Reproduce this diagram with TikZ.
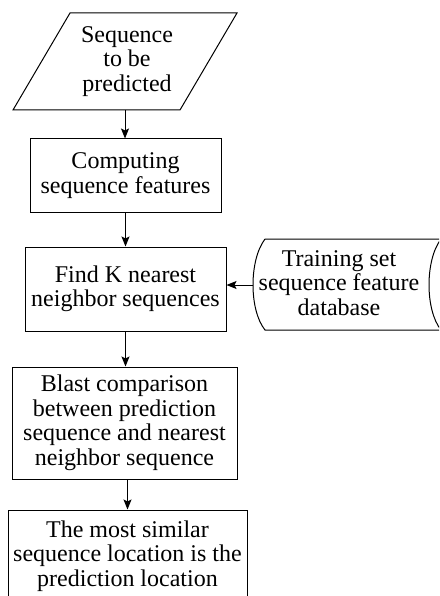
\documentclass[tikz,border=0pt]{standalone}
\usepackage{fontspec}
\setmainfont{Liberation Serif}
\usetikzlibrary{arrows.meta}
\begin{document}
\begin{tikzpicture}[x=1pt,y=-1pt,
  outline/.style={draw, line width=1pt},
  txt/.style={inner sep=0pt, align=center, font=\fontsize{24}{24.5}\selectfont},
  procbox/.style={txt, outline, rectangle},
  flow/.style={line width=1pt, -{Stealth[length=10pt,width=8pt,inset=2pt]}}]
\clip (0,0) rectangle (439,596);

% input: parallelogram
\node[txt, minimum width=167, minimum height=97] (input) at (127,61.5) {Sequence\\to be\\predicted};
\draw[outline] (70,13) -- (237,13) -- (180,110) -- (13,110) -- cycle;

% processing steps
\node[procbox, minimum width=191, minimum height=73] (comp) at (125.5,175.5) {Computing\\sequence features};
\node[procbox, minimum width=201, minimum height=84] (knn) at (125.5,289) {Find K nearest\\neighbor sequences};
\node[procbox, minimum width=225, minimum height=112] (blast) at (124.5,423) {Blast comparison\\between prediction\\sequence and nearest\\neighbor sequence};
\node[procbox, minimum width=239, minimum height=92] (final) at (127.5,556) {The most similar\\sequence location is the\\prediction location};

% stored data: training feature database
\node[txt] (db) at (339,283) {Training set\\sequence feature\\database};
\draw[outline] (265,239) -- (445,239)
  (441,239) .. controls (425,260) and (425,310) .. (441,330)
  (445,330) -- (265,330) .. controls (249,310) and (249,260) .. (265,239);
\coordinate (dbin) at (253,285);

% connectors
\draw[flow] (125,110) coordinate (inbot) -- (inbot |- comp.north);
\draw[flow] (comp.south) -- (comp.south |- knn.north);
\draw[flow] (knn.south) -- (knn.south |- blast.north);
\draw[flow] (final.north |- blast.south) -- (final.north);
\draw[flow] (dbin) -- (dbin -| knn.east);
\end{tikzpicture}
\end{document}
